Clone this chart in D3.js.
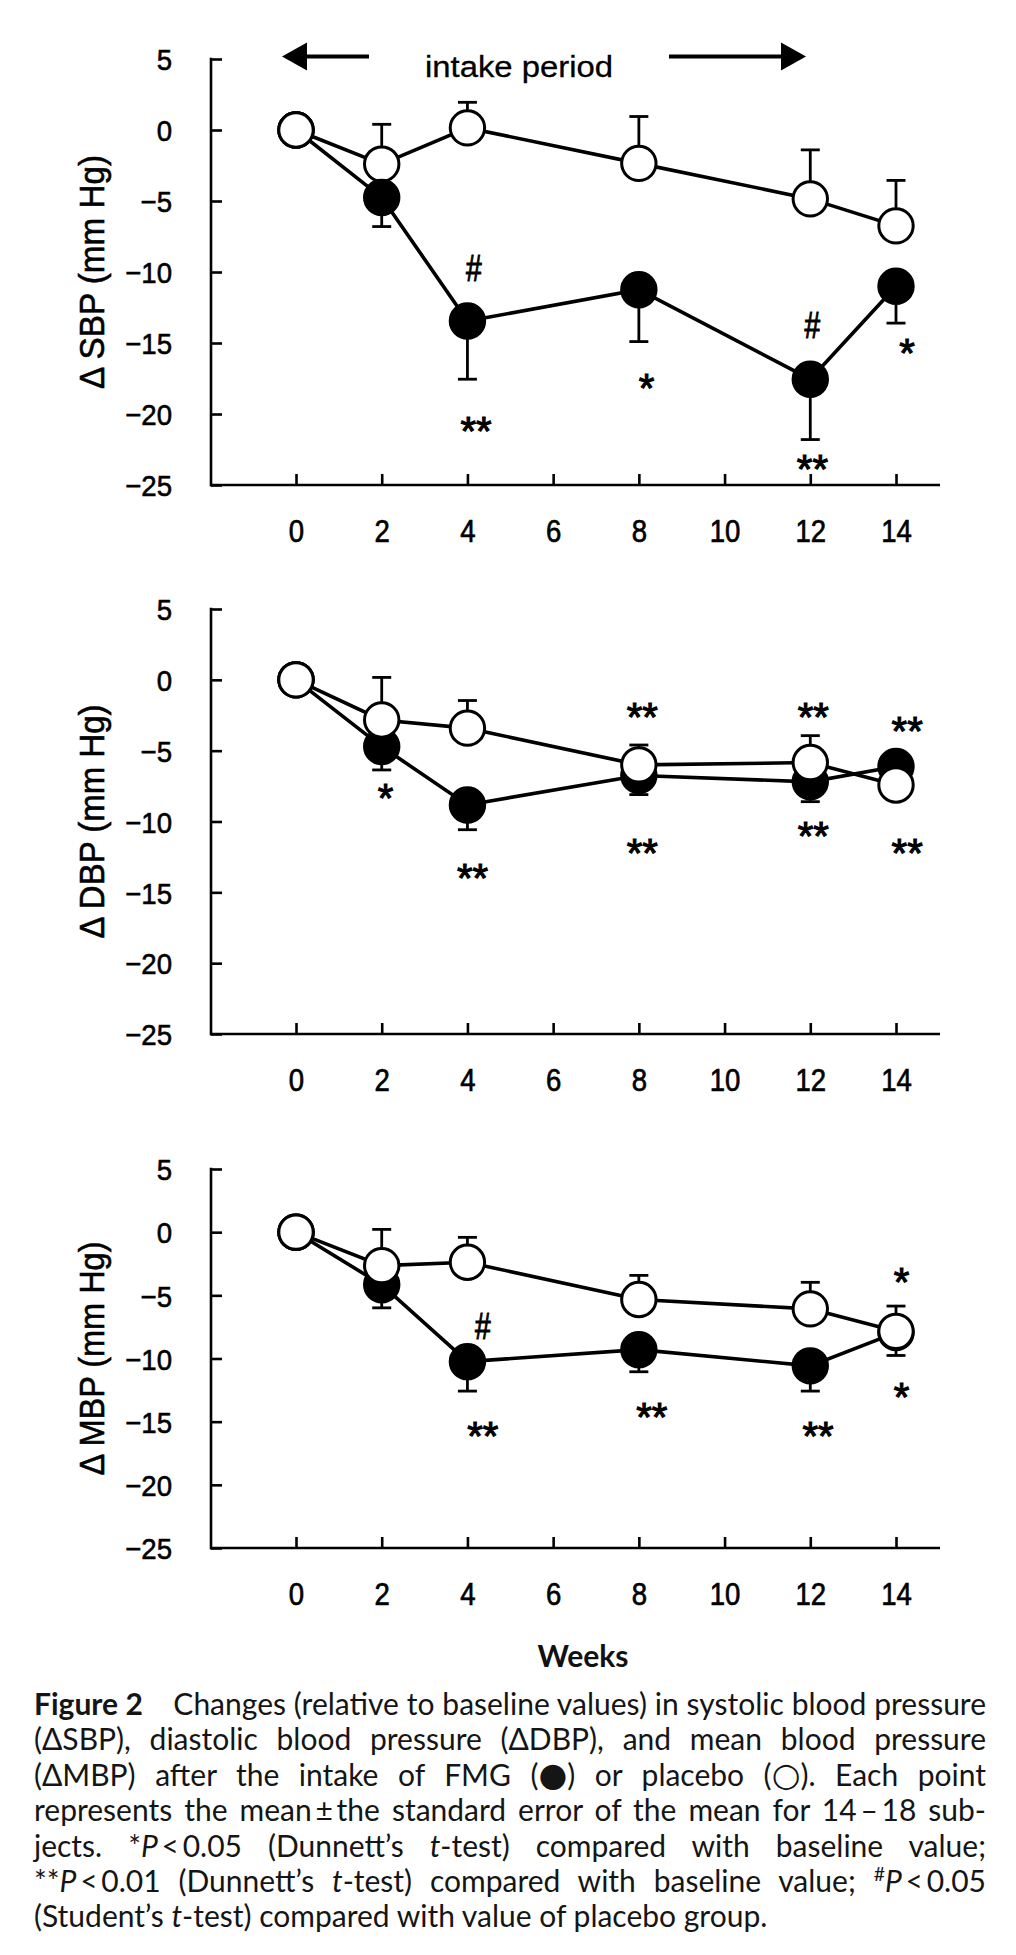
<!DOCTYPE html>
<html><head><meta charset="utf-8">
<script src="https://cdn.jsdelivr.net/npm/d3@7"></script>
<style>body{margin:0;background:#fff} svg{display:block;background:#fff}</style>
</head><body>
<svg id="c" width="1016" height="1955"></svg>
<script>
// ---------- data ----------
const weeks = [0, 2, 4, 8, 12, 14];
const xTickValues = [0, 2, 4, 6, 8, 10, 12, 14];
const yTickValues = [5, 0, -5, -10, -15, -20, -25];

const sbpPlacebo    = [0, -2.4, 0.15, -2.35, -4.85, -6.75];
const sbpPlaceboSem = [0, 2.8, 1.8, 3.3, 3.45, 3.2];
const sbpFmg        = [0, -4.75, -13.45, -11.25, -17.55, -11.0];
const sbpFmgSem     = [0, 2.05, 4.1, 3.65, 4.25, 2.6];

const dbpPlacebo    = [0, -2.83, -3.41, -6.0, -5.84, -7.42];
const dbpPlaceboSem = [0, 3.0, 1.95, 1.4, 1.9, 1.0];
const dbpFmg        = [0, -4.71, -8.83, -6.75, -7.2, -6.12];
const dbpFmgSem     = [0, 1.65, 1.75, 1.35, 1.4, 1.0];

const mbpPlacebo    = [0, -2.65, -2.38, -5.33, -6.07, -7.85];
const mbpPlaceboSem = [0, 2.87, 1.97, 1.91, 2.1, 2.0];
const mbpFmg        = [0, -4.16, -10.25, -9.3, -10.58, -7.95];
const mbpFmgSem     = [0, 1.83, 2.33, 1.75, 2.0, 1.81];

const sbpMarks = [
  {week: 4,  value: -9.7,  label: "#",  shift: 0.15},
  {week: 4,  value: -20.6, label: "**", shift: 0.2},
  {week: 8,  value: -17.6, label: "*",  shift: 0.18},
  {week: 12, value: -13.7, label: "#",  shift: 0.05},
  {week: 12, value: -23.3, label: "**", shift: 0.05},
  {week: 14, value: -15.1, label: "*",  shift: 0.26}
];
const dbpMarks = [
  {week: 2,  value: -7.75, label: "*",  shift: 0.09},
  {week: 4,  value: -13.4, label: "**", shift: 0.12},
  {week: 8,  value: -2.0,  label: "**", shift: 0.08},
  {week: 8,  value: -11.6, label: "**", shift: 0.08},
  {week: 12, value: -2.0,  label: "**", shift: 0.07},
  {week: 12, value: -10.4, label: "**", shift: 0.07},
  {week: 14, value: -3.05, label: "**", shift: 0.26},
  {week: 14, value: -11.65,label: "**", shift: 0.26}
];
const mbpMarks = [
  {week: 4,  value: -7.45, label: "#",  shift: 0.36},
  {week: 4,  value: -15.5, label: "**", shift: 0.36},
  {week: 8,  value: -14.0, label: "**", shift: 0.3},
  {week: 12, value: -15.5, label: "**", shift: 0.18},
  {week: 14, value: -3.3,  label: "*",  shift: 0.13},
  {week: 14, value: -12.35,label: "*",  shift: 0.13}
];

const panelTitles = ["Δ SBP (mm Hg)", "Δ DBP (mm Hg)", "Δ MBP (mm Hg)"];
const intakeLabel = "intake period";
const xAxisTitle = "Weeks";

const captionLines = [
  [{t: "Figure 2", b: true}, {t: "\u2003 Changes (relative to baseline values) in systolic blood pressure"}],
  [{t: "(ΔSBP), diastolic blood pressure (ΔDBP), and mean blood pressure"}],
  [{t: "(ΔMBP) after the intake of FMG ("}, {t: "●", sym: true}, {t: ") or placebo ("}, {t: "○", sym: true}, {t: "). Each point"}],
  [{t: "represents the mean\u2009±\u2009the standard error of the mean for 14\u2009–\u200918 sub-"}],
  [{t: "jects. *"}, {t: "P", i: true}, {t: "\u2009<\u20090.05 (Dunnett’s "}, {t: "t", i: true}, {t: "-test) compared with baseline value;"}],
  [{t: "**"}, {t: "P", i: true}, {t: "\u2009<\u20090.01 (Dunnett’s "}, {t: "t", i: true}, {t: "-test) compared with baseline value; "}, {t: "#", sup: true}, {t: "P", i: true}, {t: "\u2009<\u20090.05"}],
  [{t: "(Student’s "}, {t: "t", i: true}, {t: "-test) compared with value of placebo group."}]
];

// ---------- drawing ----------
const svg = d3.select("#c");
const AX = "'Liberation Sans', Arial, sans-serif";
const CAP = "Lato, 'Open Sans', sans-serif";

const x = d3.scaleLinear().domain([0, 14]).range([296, 896]);

const panels = [
  {title: panelTitles[0], placebo: sbpPlacebo, placeboSem: sbpPlaceboSem, fmg: sbpFmg, fmgSem: sbpFmgSem, marks: sbpMarks, yTop: 59, yBottom: 485, fmgOnTop: true},
  {title: panelTitles[1], placebo: dbpPlacebo, placeboSem: dbpPlaceboSem, fmg: dbpFmg, fmgSem: dbpFmgSem, marks: dbpMarks, yTop: 609, yBottom: 1034, fmgOnTop: false},
  {title: panelTitles[2], placebo: mbpPlacebo, placeboSem: mbpPlaceboSem, fmg: mbpFmg, fmgSem: mbpFmgSem, marks: mbpMarks, yTop: 1169, yBottom: 1548, fmgOnTop: false}
];

function condense(sel, f) {
  sel.each(function () {
    const w = this.getComputedTextLength();
    d3.select(this).attr("textLength", w * f).attr("lengthAdjust", "spacingAndGlyphs");
  });
}
function heavy(sel, w) {
  sel.attr("stroke", "#000").attr("stroke-width", w).attr("paint-order", "stroke");
}

panels.forEach(p => {
  const y = d3.scaleLinear().domain([-25, 5]).range([p.yBottom, p.yTop]);
  const g = svg.append("g");

  // y axis
  const ya = g.append("g").attr("transform", "translate(211,0)")
    .call(d3.axisLeft(y).tickValues(yTickValues).tickSizeInner(-11).tickSizeOuter(0).tickPadding(39));
  ya.select(".domain").remove();
  ya.selectAll(".tick line").attr("stroke", "#000").attr("stroke-width", 2.6);
  const yt = ya.selectAll(".tick text").attr("font-family", AX).attr("font-size", 30).attr("fill", "#000").attr("dy", "0.36em");
  heavy(yt, 0.6);
  condense(yt, 0.92);
  g.append("line").attr("x1", 211).attr("x2", 211).attr("y1", y(5) - 1.3).attr("y2", y(-25) + 1.3)
    .attr("stroke", "#000").attr("stroke-width", 2.6);

  // x axis
  const xa = g.append("g").attr("transform", `translate(0,${p.yBottom})`)
    .call(d3.axisBottom(x).tickValues(xTickValues).tickSizeInner(-11).tickSizeOuter(0));
  xa.select(".domain").remove();
  xa.selectAll(".tick line").attr("stroke", "#000").attr("stroke-width", 2.6);
  const xt = xa.selectAll(".tick text").attr("font-family", AX).attr("font-size", 32).attr("fill", "#000")
    .attr("y", 57).attr("dy", null);
  heavy(xt, 0.7);
  condense(xt, 0.86);
  g.append("line").attr("x1", 210).attr("x2", 940).attr("y1", p.yBottom).attr("y2", p.yBottom)
    .attr("stroke", "#000").attr("stroke-width", 2.6);

  // y title
  const tt = g.append("text")
    .attr("transform", `translate(104,${(p.yTop + p.yBottom) / 2}) rotate(-90)`)
    .attr("text-anchor", "middle").attr("font-family", AX).attr("font-size", 35).attr("fill", "#000")
    .attr("textLength", 234).attr("lengthAdjust", "spacingAndGlyphs")
    .text(p.title);
  heavy(tt, 0.6);

  const series = [
    {vals: p.placebo, sem: p.placeboSem, dir: 1, fill: "#fff"},
    {vals: p.fmg, sem: p.fmgSem, dir: -1, fill: "#000"}
  ];

  // error bars
  series.forEach(s => {
    const eb = g.append("g").attr("stroke", "#000").attr("stroke-width", 2.8);
    weeks.forEach((w, i) => {
      if (!s.sem[i]) return;
      const y0 = y(s.vals[i]), y1 = y(s.vals[i] + s.dir * s.sem[i]);
      eb.append("line").attr("x1", x(w)).attr("x2", x(w)).attr("y1", y0).attr("y2", y1);
      eb.append("line").attr("x1", x(w) - 9.5).attr("x2", x(w) + 9.5).attr("y1", y1).attr("y2", y1);
    });
  });

  // lines
  const line = d3.line().x((d, i) => x(weeks[i])).y(d => y(d));
  series.forEach(s => {
    g.append("path").attr("d", line(s.vals)).attr("fill", "none").attr("stroke", "#000").attr("stroke-width", 3.6);
  });

  // markers
  const order = p.fmgOnTop ? [series[0], series[1]] : [series[1], series[0]];
  order.forEach(s => {
    g.append("g").selectAll("circle").data(s.vals).join("circle")
      .attr("cx", (d, i) => x(weeks[i])).attr("cy", d => y(d)).attr("r", 17.2)
      .attr("fill", s.fill).attr("stroke", "#000").attr("stroke-width", 3);
  });
  g.append("circle").attr("cx", x(weeks[0])).attr("cy", y(p.placebo[0])).attr("r", 17.2)
    .attr("fill", "#fff").attr("stroke", "#000").attr("stroke-width", 3);

  // significance marks
  p.marks.forEach(m => {
    const isHash = m.label === "#";
    const fs = isHash ? 36 : 40;
    const off = isHash ? 0.36 * fs : 0.56 * fs;
    const mt = g.append("text").attr("x", x(m.week + m.shift)).attr("y", y(m.value) + off)
      .attr("text-anchor", "middle").attr("font-family", AX).attr("font-size", fs).attr("fill", "#000")
      .text(m.label);
    heavy(mt, isHash ? 1.0 : 1.1);
    if (isHash) condense(mt, 0.78);
  });
});

// intake period arrows
const ay = 56.5;
const arr = svg.append("g");
arr.append("line").attr("x1", 300).attr("x2", 369).attr("y1", ay).attr("y2", ay).attr("stroke", "#000").attr("stroke-width", 4);
arr.append("path").attr("d", `M282,${ay} L307,${ay - 14} L307,${ay + 14} Z`).attr("fill", "#000");
arr.append("line").attr("x1", 669).attr("x2", 788).attr("y1", ay).attr("y2", ay).attr("stroke", "#000").attr("stroke-width", 4);
arr.append("path").attr("d", `M806,${ay} L781,${ay - 14} L781,${ay + 14} Z`).attr("fill", "#000");
const it = svg.append("text").attr("x", 519).attr("y", 77).attr("text-anchor", "middle")
  .attr("font-family", AX).attr("font-size", 29).attr("fill", "#000")
  .attr("textLength", 188).attr("lengthAdjust", "spacingAndGlyphs").text(intakeLabel);
heavy(it, 0.3);

// x title
svg.append("text").attr("x", 583).attr("y", 1667).attr("text-anchor", "middle")
  .attr("font-family", CAP).attr("font-size", 30).attr("font-weight", 700).attr("fill", "#111")
  .text(xAxisTitle);

// caption
const cap = svg.append("g").attr("font-family", CAP).attr("fill", "#151515");
const capLeft = 34, capRight = 986;
function buildLine(parts, i, fs) {
  const t = cap.append("text").attr("x", capLeft).attr("y", 1715 + i * 35.4).attr("font-size", fs);
  parts.forEach(pt => {
    const ts = t.append("tspan").text(pt.t);
    if (pt.b) ts.attr("font-weight", 700);
    if (pt.i) ts.attr("font-style", "italic");
    if (pt.sup) ts.attr("baseline-shift", "super").attr("font-size", fs * 0.65);
    if (pt.sym) ts.attr("font-family", "'DejaVu Sans', sans-serif").attr("font-size", fs * 1.1);
  });
  return t;
}
const probe = buildLine(captionLines[captionLines.length - 1], 0, 28);
let capFs = 28 * 763 / probe.node().getComputedTextLength();
capFs = Math.max(24, Math.min(30, capFs));
probe.remove();
captionLines.forEach((parts, i) => {
  const t = buildLine(parts, i, capFs);
  if (i < captionLines.length - 1) {
    const w = t.node().getComputedTextLength();
    const n = (t.text().match(/ /g) || []).length;
    if (n > 0) t.style("word-spacing", ((capRight - capLeft - w) / n) + "px");
  }
});
</script>
</body></html>
